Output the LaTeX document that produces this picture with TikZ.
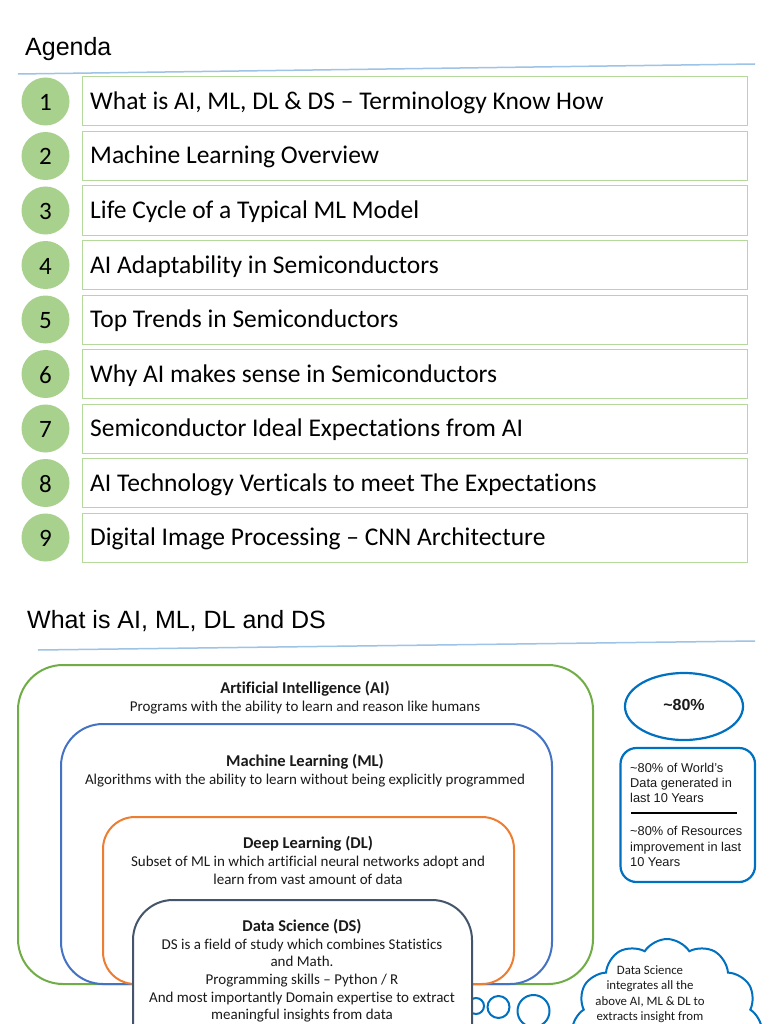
\documentclass[tikz,border=0pt]{standalone}
\usepackage{fontspec}
\setmainfont{Carlito}[Ligatures=NoCommon]
\newfontfamily\arialf{Liberation Sans}
\usetikzlibrary{shapes.geometric,shapes.symbols}
\definecolor{numgreen}{HTML}{A9D18E}
\definecolor{boxgreen}{HTML}{B5D99C}
\definecolor{hdrblue}{HTML}{9DC3E6}
\definecolor{aigreen}{HTML}{70AD47}
\definecolor{mlblue}{HTML}{4472C4}
\definecolor{dlorange}{HTML}{ED7D31}
\definecolor{dsslate}{HTML}{44546A}
\definecolor{cblue}{HTML}{0070C0}
\definecolor{txt}{HTML}{1A1A1A}
\tikzset{
  hdrline/.style={draw=hdrblue, line width=1.5pt},
  hdrtext/.style={anchor=base west, inner sep=0pt, font=\arialf\fontsize{25}{29}\selectfont, text=black},
  numcirc/.style={circle, fill=numgreen, draw=none, minimum size=48pt, inner sep=0pt},
  numtext/.style={anchor=base, inner sep=0pt, font=\fontsize{25}{29}\selectfont, text=black},
  itembox/.style={draw=boxgreen, line width=1pt, fill=white},
  itemtext/.style={anchor=base west, inner sep=0pt, font=\fontsize{25.5}{29}\selectfont, text=black},
  setbox/.style={line width=2pt},
  ttl/.style={anchor=base, inner sep=0pt, font=\bfseries\fontsize{16.5}{19}\selectfont, text=txt},
  body/.style={anchor=base, inner sep=0pt, font=\fontsize{15}{18}\selectfont, text=txt},
  rtext/.style={anchor=base west, inner sep=0pt, font=\arialf\fontsize{12.8}{15}\selectfont, text=txt},
  cltext/.style={anchor=base, inner sep=0pt, font=\fontsize{12.8}{15}\selectfont, text=txt},
  bubble/.style={draw=cblue, line width=2pt, fill=white},
}
\begin{document}
\begin{tikzpicture}[x=1pt,y=-1pt]
\useasboundingbox (0,0) rectangle (768,1024);
\clip (0,0) rectangle (768,1024);
\fill[white] (0,0) rectangle (768,1024);

% ---------- Agenda ----------
\node[hdrtext] (agenda) at (25,56) {Agenda};
\coordinate (h1a) at (18,74);
\coordinate (h1b) at (755,64);
\draw[hdrline] (h1a) -- (h1b);

\foreach \i/\t in {1/{What is AI, ML, DL \& DS – Terminology Know How},
                   2/{Machine Learning Overview},
                   3/{Life Cycle of a Typical ML Model},
                   4/{AI Adaptability in Semiconductors},
                   5/{Top Trends in Semiconductors},
                   6/{Why AI makes sense in Semiconductors},
                   7/{Semiconductor Ideal Expectations from AI},
                   8/{AI Technology Verticals to meet The Expectations},
                   9/{Digital Image Processing – CNN Architecture}} {
  \pgfmathsetmacro{\top}{77+(\i-1)*54.5}
  \pgfmathsetmacro{\mid}{\top+24.5}
  \draw[itembox] (82,\top) rectangle (747,\top+49);
  \node[numcirc] (circ\i) at (45.5,\mid) {};
  \node[numtext] (num\i) at (45.5,\mid+9) {\i};
  \node[itemtext] (item\i) at (90,\mid+8) {\t};
}

% ---------- Section 2 ----------
\node[hdrtext] (whatis) at (27,628) {What is AI, ML, DL and DS};
\coordinate (h2a) at (38,650);
\coordinate (h2b) at (755,641);
\draw[hdrline] (h2a) -- (h2b);

% nested sets
\draw[setbox, draw=aigreen, rounded corners=45pt] (18,665) rectangle (593,984);
\draw[setbox, draw=mlblue, rounded corners=42pt] (61,724) rectangle (552,984);
\draw[setbox, draw=dlorange, rounded corners=32pt] (103,817) rectangle (514,984);

\node[ttl] (aiT) at (305,693) {Artificial Intelligence (AI)};
\node[body] (aiB) at (305,711) {Programs with the ability to learn and reason like humans};
\node[ttl] (mlT) at (305,766) {Machine Learning (ML)};
\node[body] (mlB) at (305,784) {Algorithms with the ability to learn without being explicitly programmed};
\node[ttl] (dlT) at (308,848) {Deep Learning (DL)};
\node[body] (dlB1) at (308,866) {Subset of ML in which artificial neural networks adopt and};
\node[body] (dlB2) at (308,884) {learn from vast amount of data};

% thought bubbles
\draw[bubble] (476,1006) circle (8);
\draw[bubble] (498.5,1007) circle (11);
\draw[bubble] (533.5,1011) circle (16);
\node[cloud, cloud puffs=12, cloud puff arc=115, aspect=1.05, bubble,
      minimum width=190pt, minimum height=184pt, inner sep=0pt] (cloud) at (667,1031) {};

% DS box
\draw[setbox, draw=dsslate, fill=white, rounded corners=40pt] (133,900) rectangle (472,1100);
\node[ttl] (dsT) at (302,931) {Data Science (DS)};
\node[body] (ds1) at (302,949) {DS is a field of study which combines Statistics};
\node[body] (ds2) at (302,966.5) {and Math.};
\node[body] (ds3) at (302,984.5) {Programming skills – Python / R};
\node[body] (ds4) at (302,1002) {And most importantly Domain expertise to extract};
\node[body] (ds5) at (302,1019.5) {meaningful insights from data};

% cloud text
\node[cltext] (cl1) at (650,974) {Data Science};
\node[cltext] (cl2) at (650,989.5) {integrates all the};
\node[cltext] (cl3) at (650,1005) {above AI, ML \& DL to};
\node[cltext] (cl4) at (650,1020.5) {extracts insight from};

% right side
\node[ellipse, draw=cblue, line width=2.2pt, minimum width=118pt, minimum height=67pt, inner sep=0pt] (pct) at (684,706.5) {};
\node[anchor=base, inner sep=0pt, font=\arialf\bfseries\fontsize{16}{19}\selectfont, text=txt] (pcttxt) at (684,710) {\textasciitilde 80\%};
\draw[draw=cblue, line width=2.2pt, rounded corners=16pt] (620.5,748) rectangle (755,882);
\node[rtext] (r1) at (630,772) {\textasciitilde 80\% of World’s};
\node[rtext] (r2) at (630,787) {Data generated in};
\node[rtext] (r3) at (630,802) {last 10 Years};
\coordinate (ruleA) at (631,813);
\coordinate (ruleB) at (737,813);
\draw[line width=1.5pt, black] (ruleA) -- (ruleB);
\node[rtext] (r4) at (630,835.5) {\textasciitilde 80\% of Resources};
\node[rtext] (r5) at (630,851) {improvement in last};
\node[rtext] (r6) at (630,866.5) {10 Years};
\end{tikzpicture}
\end{document}
